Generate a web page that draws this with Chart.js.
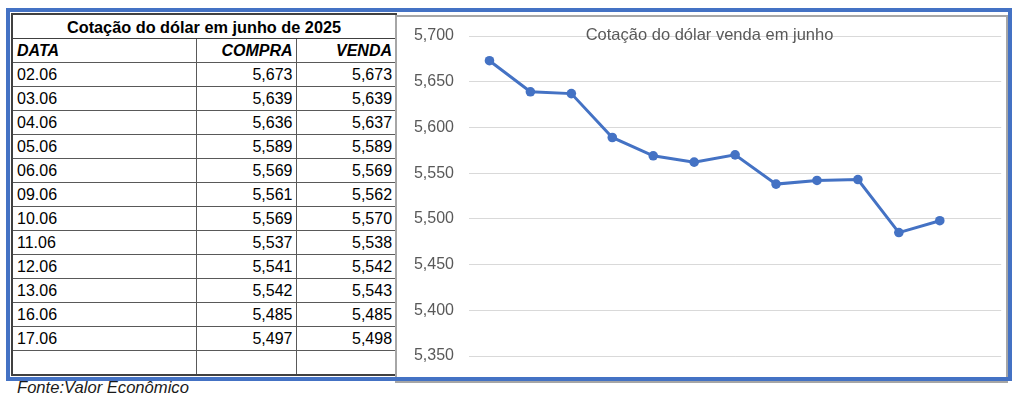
<!DOCTYPE html>
<html>
<head>
<meta charset="utf-8">
<script src="https://cdn.jsdelivr.net/npm/chart.js@4.4.1/dist/chart.umd.min.js"></script>
<style>
body { margin: 0; background: #fff; font-family: "Liberation Sans", Arial, sans-serif; }
#frame { position: absolute; left: 6px; top: 8px; width: 1006px; height: 373px; box-sizing: border-box; border: 4px solid #4472C4; z-index: 5; pointer-events: none; }
#chartBox { position: absolute; left: 395px; top: 15px; width: 613px; height: 368px; box-sizing: border-box; border: 2px solid #a6a6a6; background: #fff; }
#chartWrap { position: absolute; left: 0; top: 0; width: 609px; height: 364px; }
table { position: absolute; left: 11px; top: 13px; width: 384px; border-collapse: collapse; table-layout: fixed; font-size: 16px; color: #000; }
td, th { border: 1px solid #595959; padding: 0 4px; height: 23px; line-height: 16px; white-space: nowrap; overflow: hidden; }
table { border: 2px solid #404040; }
th.title { font-weight: bold; text-align: center; border-bottom: 1px solid #404040; font-size: 16.3px; }
tr.head td { font-weight: bold; font-style: italic; }
td.num { text-align: right; padding-right: 3px; }
#fonte { position: absolute; left: 17px; top: 378px; font-style: italic; font-size: 16.6px; color: #1a1a1a; }
</style>
</head>
<body>
<table id="tbl">
  <colgroup><col style="width:184px"><col style="width:100px"><col style="width:100px"></colgroup>
  <tr><th class="title" colspan="3">Cotação do dólar em junho de 2025</th></tr>
  <tr class="head"><td>DATA</td><td class="num">COMPRA</td><td class="num">VENDA</td></tr>
</table>
<div id="fonte">Fonte:Valor Econômico</div>
<div id="chartBox"><div id="chartWrap"><canvas id="chart"></canvas></div></div>
<div id="frame"></div>
<script>
// table rows and chart data
var dates = ['02.06', '03.06', '04.06', '05.06', '06.06', '09.06', '10.06', '11.06', '12.06', '13.06', '16.06', '17.06', ''];
var compra = [5.673, 5.639, 5.636, 5.589, 5.569, 5.561, 5.569, 5.537, 5.541, 5.542, 5.485, 5.497, null];
var venda = [5.673, 5.639, 5.637, 5.589, 5.569, 5.562, 5.570, 5.538, 5.542, 5.543, 5.485, 5.498, null];
var yTicks = [5.35, 5.40, 5.45, 5.50, 5.55, 5.60, 5.65, 5.70];
var chartTitle = 'Cotação do dólar venda em junho';

function fmt(v) {
    if (v == null) return '';
    return v.toFixed(3).replace('.', ',');
}

// Fill the table
var tbl = document.getElementById('tbl');
dates.forEach(function(d, i) {
    var tr = document.createElement('tr');
    tr.innerHTML = '<td>' + d + '</td><td class="num">' + fmt(compra[i]) + '</td><td class="num">' + fmt(venda[i]) + '</td>';
    tbl.appendChild(tr);
});

// Title drawn over the plot area, like the Excel one
var overlayTitle = {
    id: 'overlayTitle',
    afterDraw: function(chart) {
        var ctx = chart.ctx;
        ctx.save();
        ctx.font = '16.5px "Liberation Sans", Arial, sans-serif';
        ctx.fillStyle = '#595959';
        ctx.textAlign = 'center';
        ctx.textBaseline = 'alphabetic';
        ctx.fillText(chartTitle, chart.width / 2 + 8, chart.chartArea.top + 4);
        ctx.restore();
    }
};

var ctx = document.getElementById('chart');
var myLineChart = new Chart(ctx, {
    type: 'line',
    data: {
        labels: dates,
        datasets: [{
            label: 'Venda',
            data: venda,
            borderColor: '#4472C4',
            backgroundColor: '#4472C4',
            borderWidth: 3,
            tension: 0,
            fill: false,
            pointRadius: 4.8,
            pointBorderWidth: 0,
            pointBackgroundColor: '#4472C4',
            spanGaps: false
        }]
    },
    options: {
        responsive: true,
        maintainAspectRatio: false,
        animation: false,
        layout: { padding: { left: 0, top: 19, right: 3, bottom: 25 } },
        plugins: {
            legend: { display: false },
            tooltip: { enabled: false },
            title: { display: false }
        },
        scales: {
            x: {
                display: false,
                offset: true
            },
            y: {
                min: 5.35,
                max: 5.70,
                afterFit: function(scale) { scale.width = 72; },
                afterBuildTicks: function(scale) {
                    scale.ticks = yTicks.map(function(v) { return { value: v }; });
                },
                border: { display: false },
                // invisible ticks give the gap between labels and gridlines
                grid: { color: '#d9d9d9', lineWidth: 1, drawTicks: true, tickLength: 15, tickColor: 'rgba(0,0,0,0)' },
                ticks: {
                    padding: 0,
                    color: '#595959',
                    font: { family: '"Liberation Sans", Arial, sans-serif', size: 16 },
                    callback: function(v) { return fmt(v); }
                }
            }
        }
    },
    plugins: [overlayTitle]
});
</script>
</body>
</html>
